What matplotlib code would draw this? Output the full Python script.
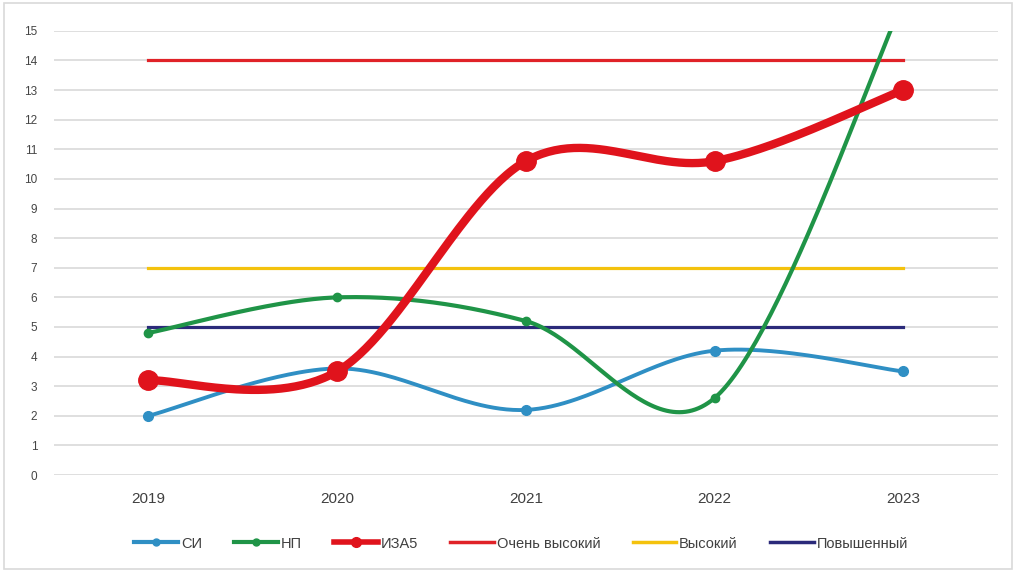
import numpy as np
import matplotlib
matplotlib.use("Agg")
from matplotlib import pyplot as plt
from matplotlib.lines import Line2D

years = ['2019', '2020', '2021', '2022', '2023']
si = [2.0, 3.6, 2.2, 4.2, 3.5]
np_vals = [4.8, 6.0, 5.2, 2.6, 16.0]
iza5 = [3.2, 3.5, 10.6, 10.6, 13.0]
very_high = 14
high = 7
elevated = 5


def smooth(xs, ys, n=60):
    # excel-like smoothed line: cubic bezier, control points from neighbours
    xs = np.asarray(xs, float)
    ys = np.asarray(ys, float)
    px = np.concatenate([[xs[0]], xs, [xs[-1]]])
    py = np.concatenate([[ys[0]], ys, [ys[-1]]])
    out_x, out_y = [], []
    t = np.linspace(0, 1, n)
    for i in range(1, len(xs)):
        x0, x1, x2, x3 = px[i - 1], px[i], px[i + 1], px[i + 2]
        y0, y1, y2, y3 = py[i - 1], py[i], py[i + 1], py[i + 2]
        c1x, c1y = x1 + (x2 - x0) / 6, y1 + (y2 - y0) / 6
        c2x, c2y = x2 - (x3 - x1) / 6, y2 - (y3 - y1) / 6
        bx = (1-t)**3*x1 + 3*(1-t)**2*t*c1x + 3*(1-t)*t**2*c2x + t**3*x2
        by = (1-t)**3*y1 + 3*(1-t)**2*t*c1y + 3*(1-t)*t**2*c2y + t**3*y2
        out_x.extend(bx)
        out_y.extend(by)
    return np.array(out_x), np.array(out_y)


plt.rcParams['font.family'] = ['Liberation Sans', 'DejaVu Sans']

fig = plt.figure(figsize=(10.18, 5.71), dpi=100)
fig.patches.append(plt.Rectangle((0.004, 0.004), 0.99, 0.99, transform=fig.transFigure,
                                 fill=False, edgecolor='#d9d9d9', linewidth=1.2))
ax = fig.add_axes([0.053, 0.168, 0.927, 0.778])

x = np.arange(len(years))

c_si = '#2f8fc4'
c_np = '#1f9447'
c_iza = '#e0131c'
c_vh = '#e02228'
c_h = '#f4c20d'
c_el = '#2b2a7a'

ax.plot([x[0], x[-1]], [very_high] * 2, color=c_vh, lw=2.3, zorder=2)
ax.plot([x[0], x[-1]], [high] * 2, color=c_h, lw=2.3, zorder=2)
ax.plot([x[0], x[-1]], [elevated] * 2, color=c_el, lw=2.3, zorder=2)

sx, sy = smooth(x, si)
ax.plot(sx, sy, color=c_si, lw=2.8, zorder=3)
ax.plot(x, si, 'o', color=c_si, ms=7, zorder=3)

nx, ny = smooth(x, np_vals)
ax.plot(nx, ny, color=c_np, lw=3, zorder=4)
ax.plot(x, np_vals, 'o', color=c_np, ms=6, zorder=4)

ix, iy = smooth(x, iza5)
ax.plot(ix, iy, color=c_iza, lw=6, zorder=5, solid_capstyle='round')
ax.plot(x, iza5, 'o', color=c_iza, ms=14, zorder=5)

ax.set_xlim(-0.5, len(years) - 0.5)
ax.set_ylim(0, 15)
ax.set_yticks(range(0, 16))
ax.set_xticks(x)
ax.set_xticklabels(years, fontsize=11, color='#404040')
ax.tick_params(axis='y', labelsize=8.5, colors='#454545', length=0, pad=12)
ax.tick_params(axis='x', length=0, pad=12)
ax.grid(axis='y', color='#d9d9d9', lw=1.2)
ax.set_axisbelow(True)
for s in ax.spines.values():
    s.set_visible(False)

handles = [
    Line2D([], [], color=c_si, lw=3, marker='o', ms=5),
    Line2D([], [], color=c_np, lw=3, marker='o', ms=5),
    Line2D([], [], color=c_iza, lw=4, marker='o', ms=7),
    Line2D([], [], color=c_vh, lw=2.5),
    Line2D([], [], color=c_h, lw=2.5),
    Line2D([], [], color=c_el, lw=2.5),
]
labels = ['СИ', 'НП', 'ИЗА5', 'Очень высокий', 'Высокий', 'Повышенный']
fig.legend(handles, labels, loc='center', bbox_to_anchor=(0.512, 0.048), ncol=6,
           frameon=False, fontsize=10.5, handlelength=3.0, handletextpad=0.2,
           columnspacing=2.2, labelcolor='#404040')

fig.savefig('out.png', dpi=100)
